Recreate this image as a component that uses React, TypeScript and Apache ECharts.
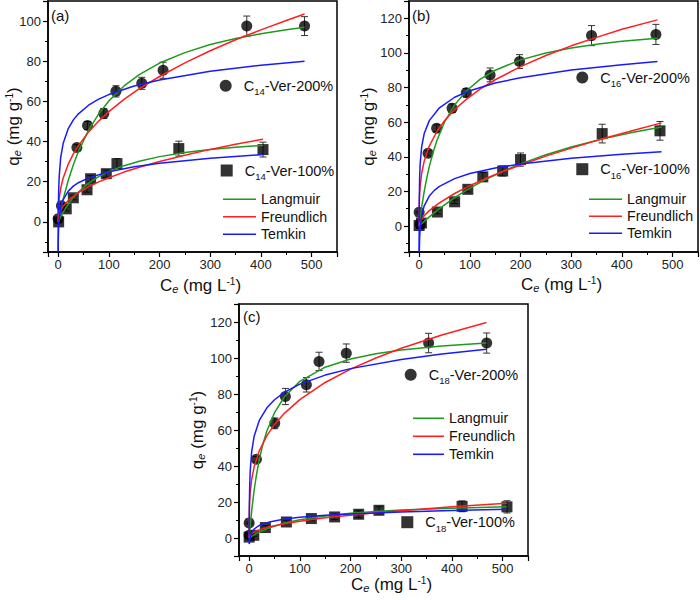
import React, { useEffect, useRef } from "react";
import * as echarts from "echarts";

const FONT = '"Liberation Sans", Arial, sans-serif';

// ---------- Panel (a): C14 ----------
const aC200 = [0, 6.5, 37, 58, 90, 114, 165, 207, 372, 486];
const aQ200 = [1.5, 8, 37, 48, 54, 65, 69, 75.5, 97.5, 97.5];
const aE200 = [0.5, 1, 1.5, 2, 2.5, 2.8, 3, 4, 5, 4.7];
const aC100 = [1, 16, 30, 57, 64, 95, 116, 238, 404];
const aQ100 = [0, 6.5, 12, 16, 21.5, 24, 29, 36.5, 36];
const aE100 = [0.3, 1, 1, 1.2, 1.5, 1.8, 2.5, 3.7, 3.7];

const aLang200 = [[0, 0], [2.5, 3.1], [5, 6.0], [10, 11.4], [20, 20.7], [30, 28.4], [40, 35.1], [60, 45.7], [80, 53.8], [100, 60.2], [130, 67.7], [160, 73.3], [200, 79.1], [250, 84.3], [300, 88.3], [350, 91.3], [400, 93.7], [450, 95.7], [486, 96.9]];
const aFreu200 = [[0, 0], [0.3, 5.4], [1, 8.7], [2, 11.5], [5, 16.6], [10, 21.9], [20, 28.8], [30, 33.9], [40, 38.0], [60, 44.8], [80, 50.2], [100, 54.9], [130, 61.0], [160, 66.4], [200, 72.4], [250, 79.2], [300, 85.2], [350, 90.7], [400, 95.6], [450, 100.3], [486, 103.5]];
const aTemk200 = [[0.057, -15], [0.1, -9.1], [0.2, -1.8], [0.5, 7.8], [1, 15.1], [2, 22.3], [5, 32.0], [10, 39.2], [20, 46.5], [30, 50.8], [40, 53.8], [60, 58.1], [80, 61.1], [100, 63.4], [150, 67.7], [200, 70.7], [300, 75.0], [400, 78.0], [486, 80.0]];
const aLang100 = [[0, 0], [5, 2.6], [10, 4.9], [20, 8.9], [30, 12.2], [40, 14.9], [60, 19.3], [80, 22.5], [100, 25.1], [130, 28.0], [160, 30.2], [200, 32.5], [250, 34.5], [300, 36.0], [350, 37.2], [404, 38.1]];
const aFreu100 = [[0, 0], [0.5, 2.0], [1, 2.8], [2.5, 4.3], [5, 5.7], [10, 7.8], [20, 10.7], [40, 14.6], [60, 17.5], [80, 19.9], [100, 22.0], [130, 24.8], [160, 27.2], [200, 30.1], [250, 33.2], [300, 36.1], [350, 38.7], [404, 41.2]];
const aTemk100 = [[0.133, -15], [0.3, -10.1], [0.6, -5.9], [1, -2.8], [2, 1.4], [5, 6.9], [10, 11.1], [20, 15.3], [30, 17.8], [40, 19.5], [60, 21.9], [100, 25.0], [150, 27.5], [200, 29.2], [300, 31.7], [404, 33.5]];

// ---------- Panel (b): C16 ----------
const bC200 = [0, 2, 17.6, 34.5, 65, 93, 140, 198, 340, 467];
const bQ200 = [8, 1, 42, 56.5, 68, 77, 87.3, 95, 110, 110.7];
const bE200 = [0.5, 0.5, 1.5, 2, 2.5, 2.5, 4, 4, 5.8, 5.8];
const bC100 = [0, 4.5, 36, 70, 96, 125.6, 164.7, 200, 361, 475];
const bQ100 = [0.3, 1.7, 8.1, 14, 21.2, 28.4, 31.8, 38.4, 53.4, 55];
const bE100 = [0.3, 0.5, 1, 1, 1.5, 2.5, 2.9, 3.8, 5.4, 5.4];

const bLang200 = [[0, 0], [2, 4.6], [5, 10.9], [10, 20], [15, 27.7], [20, 34.3], [27, 42.0], [35, 49.4], [50, 60], [70, 70], [93, 78], [120, 84.7], [150, 90], [200, 96], [250, 100], [300, 102.9], [350, 105], [400, 106.7], [470, 108.5]];
const bFreu200 = [[0, 0], [0.1, 9.4], [0.5, 15.3], [1, 18.8], [2, 23.1], [5, 30.5], [10, 37.5], [20, 46.2], [35, 54.6], [50, 60.8], [70, 67.3], [93, 73.2], [120, 79.1], [150, 84.5], [200, 92.1], [250, 98.5], [300, 104.1], [350, 109.0], [400, 113.7], [470, 119.1]];
const bTemk200 = [[0.018, -14.9], [0.05, -3.9], [0.1, 3.6], [0.3, 15.5], [1, 28.5], [2, 36.0], [5, 45.9], [10, 53.4], [20, 60.9], [40, 68.3], [70, 74.4], [100, 78.2], [150, 82.6], [200, 85.7], [300, 90.1], [400, 93.2], [470, 95.0]];
const bLang100 = [[0, 0], [10, 2.7], [20, 5.3], [40, 10.1], [70, 16.4], [100, 21.9], [130, 26.7], [165, 31.6], [200, 35.9], [250, 41.2], [300, 45.7], [360, 50.2], [420, 54.0], [478, 57.2]];
const bFreu100 = [[0, 0], [1, 1.5], [5, 3.9], [10, 5.9], [20, 8.9], [40, 13.4], [70, 18.8], [100, 23.3], [130, 27.3], [165, 31.5], [200, 35.3], [250, 40.4], [300, 45.0], [360, 50.3], [420, 55.1], [478, 59.6]];
const bTemk100 = [[0.36, -15], [0.6, -10.9], [1, -6.8], [2, -1.2], [5, 6.2], [10, 11.7], [20, 17.3], [30, 20.6], [40, 22.9], [70, 27.4], [100, 30.3], [150, 33.5], [200, 35.9], [300, 39.1], [400, 41.4], [478, 42.9]];

// ---------- Panel (c): C18 ----------
const cC200 = [0, 0, 14.4, 50.5, 71.5, 112.9, 137.8, 191.6, 354, 468.5];
const cQ200 = [8.4, 1.5, 43.8, 63.7, 78.6, 85.1, 98.1, 102.7, 108.3, 108.3];
const cE200 = [0.5, 0.5, 1.5, 3, 4.5, 4, 5.1, 5.1, 5.4, 5.6];
const cC100 = [0, 9.2, 32, 73.5, 122.7, 168.6, 216, 256, 420, 508.5];
const cQ100 = [0.5, 1.5, 5.8, 8.9, 10.8, 11.7, 13.2, 15.4, 17.6, 17.3];
const cE100 = [0.3, 0.5, 1, 1, 1.2, 1.5, 2, 2, 3, 3.4];

const cLang200 = [[0, 0], [2, 6.6], [5, 15.1], [10, 26.8], [15, 36.0], [20, 43.5], [27, 52.1], [35, 59.4], [50, 69.6], [70, 78.6], [100, 87], [150, 94.9], [200, 99.4], [250, 102.4], [300, 104.4], [380, 106.6], [468, 108.3]];
const cFreu200 = [[0, 0], [0.1, 10.6], [0.5, 16.8], [1, 20.5], [2, 25.0], [5, 32.5], [10, 39.7], [20, 48.4], [35, 56.9], [50, 63.0], [70, 69.4], [100, 76.9], [150, 86.4], [200, 93.8], [250, 100.0], [300, 105.4], [380, 112.8], [468, 119.7]];
const cTemk200 = [[0.085, -3.0], [0.2, 7.8], [0.5, 19.2], [1, 27.9], [2, 36.6], [5, 48.0], [10, 56.7], [20, 65.3], [35, 72.3], [50, 76.8], [70, 81.0], [100, 85.5], [150, 90.5], [200, 94.1], [300, 99.2], [380, 102.2], [468, 104.8]];
const cLang100 = [[0, 0], [5, 0.9], [10, 1.8], [20, 3.3], [40, 5.7], [70, 8.3], [100, 10.1], [150, 12.2], [200, 13.7], [250, 14.7], [300, 15.5], [400, 16.5], [508, 17.3]];
const cFreu100 = [[0, 0], [1, 1.2], [5, 2.4], [10, 3.3], [20, 4.5], [40, 6.2], [70, 7.9], [100, 9.3], [150, 11.2], [200, 12.7], [250, 14.0], [300, 15.2], [400, 17.3], [508, 19.3]];
const cTemk100 = [[0.5, -3.4], [1, -1.4], [2, 0.5], [5, 3.1], [10, 5.0], [20, 7.0], [40, 8.9], [70, 10.5], [100, 11.5], [150, 12.6], [200, 13.4], [300, 14.5], [400, 15.3], [508, 16.0]];

const GREEN = "#1f9a1f";
const RED = "#ff1f1f";
const BLUE = "#1a1aff";

const zip3 = (xs: number[], ys: number[], es: number[]) => xs.map((x, i) => [x, ys[i], es[i]]);

function errorBars(idx: number, data: number[][]) {
  return {
    type: "custom",
    xAxisIndex: idx,
    yAxisIndex: idx,
    data,
    z: 2,
    silent: true,
    encode: { x: 0, y: 1 },
    renderItem: (_params: any, api: any) => {
      const x = api.value(0);
      const y = api.value(1);
      const e = api.value(2);
      const p1 = api.coord([x, y + e]);
      const p2 = api.coord([x, y - e]);
      const w = 3.5;
      const st = () => ({ stroke: "#333", lineWidth: 1 });
      return {
        type: "group",
        children: [
          { type: "line", shape: { x1: p1[0], y1: p1[1], x2: p2[0], y2: p2[1] }, style: st() },
          { type: "line", shape: { x1: p1[0] - w, y1: p1[1], x2: p1[0] + w, y2: p1[1] }, style: st() },
          { type: "line", shape: { x1: p2[0] - w, y1: p2[1], x2: p2[0] + w, y2: p2[1] }, style: st() },
        ],
      };
    },
  };
}

function scatter(idx: number, name: string, symbol: string, data: number[][]) {
  return {
    type: "scatter",
    name,
    xAxisIndex: idx,
    yAxisIndex: idx,
    symbol,
    symbolSize: 11,
    itemStyle: { color: "#000" },
    data: data.map((d) => [d[0], d[1]]),
    z: 3,
    silent: true,
  };
}

function curve(idx: number, name: string, color: string, data: number[][]) {
  return {
    type: "line",
    name,
    xAxisIndex: idx,
    yAxisIndex: idx,
    data,
    symbol: "none",
    showSymbol: false,
    smooth: false,
    clip: true,
    lineStyle: { color, width: 1.5 },
    itemStyle: { color },
    z: 4,
    silent: true,
  };
}

const subRich = {
  n: { fontSize: 17, fontFamily: FONT, color: "#111", lineHeight: 18 },
  s: { fontSize: 11, fontFamily: FONT, fontStyle: "italic", color: "#111", lineHeight: 10, verticalAlign: "bottom" },
  p: { fontSize: 10, fontFamily: FONT, color: "#111", lineHeight: 10, verticalAlign: "top" },
};

function xAxisFor(idx: number, gap: number) {
  return {
    type: "value",
    gridIndex: idx,
    min: -20,
    max: 550,
    splitNumber: 5,
    name: "{n|C}{s|e}{n| (mg L}{p|-1}{n|)}",
    nameLocation: "middle",
    nameGap: gap,
    nameMoveOverlap: false,
    nameTextStyle: { rich: subRich, padding: [0, 0, 0, 16] },
    axisLine: { show: true, onZero: false, lineStyle: { color: "#000", width: 1.5 } },
    axisTick: { show: true, inside: false, length: 5, lineStyle: { color: "#000", width: 1.2 } },
    minorTick: { show: true, splitNumber: 2, length: 3, lineStyle: { color: "#000", width: 1 } },
    axisLabel: {
      fontSize: 13,
      fontFamily: FONT,
      color: "#222",
      margin: 6,
      formatter: (v: number) => (v % 100 === 0 ? String(v) : ""),
    },
    splitLine: { show: false },
    minorSplitLine: { show: false },
  };
}

function yAxisFor(idx: number, min: number, max: number, splitNumber: number, gap: number) {
  return {
    type: "value",
    gridIndex: idx,
    min,
    max,
    splitNumber,
    name: "{n|q}{s|e}{n| (mg g}{p|-1}{n|)}",
    nameLocation: "middle",
    nameRotate: 90,
    nameGap: gap,
    nameMoveOverlap: false,
    nameTextStyle: { rich: subRich },
    axisLine: { show: true, onZero: false, lineStyle: { color: "#000", width: 1.5 } },
    axisTick: { show: true, inside: false, length: 5, lineStyle: { color: "#000", width: 1.2 } },
    minorTick: { show: true, splitNumber: 2, length: 3, lineStyle: { color: "#000", width: 1 } },
    axisLabel: {
      fontSize: 13,
      fontFamily: FONT,
      color: "#222",
      margin: 7,
      formatter: (v: number) => (v % 20 === 0 ? String(v) : ""),
    },
    splitLine: { show: false },
    minorSplitLine: { show: false },
  };
}

const legRich = {
  g: { width: 7, fontSize: 14.5, lineHeight: 22 },
  n: { fontSize: 14.5, fontFamily: FONT, color: "#111", lineHeight: 22 },
  s: { fontSize: 9.5, fontFamily: FONT, color: "#111", lineHeight: 11, verticalAlign: "bottom" },
};

function pointLegend(name: string, icon: string, cx: number, cy: number) {
  return {
    data: [{ name, icon }],
    left: cx - 6,
    top: cy - 11,
    padding: 0,
    itemWidth: 12,
    itemHeight: 12,
    selectedMode: false,
    formatter: (n: string) => {
      const m = n.match(/^C(\d+)(.*)$/);
      return m ? `{g| }{n|C}{s|${m[1]}}{n|${m[2]}}` : `{n|${n}}`;
    },
    textStyle: { rich: legRich },
  };
}

function modelLegend(left: number, width: number, cy: number, lh: number) {
  return {
    data: [
      { name: "Langmuir", icon: "rect" },
      { name: "Freundlich", icon: "rect" },
      { name: "Temkin", icon: "rect" },
    ],
    orient: "vertical",
    left,
    top: cy - lh / 2,
    padding: 0,
    itemWidth: width,
    itemHeight: 1.6,
    itemGap: 0,
    selectedMode: false,
    textStyle: { fontSize: 14.2, fontFamily: FONT, color: "#111", lineHeight: lh },
  };
}

function panelSeries(idx: number, n: string, hi: number[][], lo: number[][], curves: number[][][]) {
  return [
    errorBars(idx, hi),
    errorBars(idx, lo),
    scatter(idx, `C${n}-Ver-200%`, "circle", hi),
    scatter(idx, `C${n}-Ver-100%`, "rect", lo),
    curve(idx, "Langmuir", GREEN, curves[0]),
    curve(idx, "Freundlich", RED, curves[1]),
    curve(idx, "Temkin", BLUE, curves[2]),
    curve(idx, "Langmuir", GREEN, curves[3]),
    curve(idx, "Freundlich", RED, curves[4]),
    curve(idx, "Temkin", BLUE, curves[5]),
  ];
}

export default function App() {
  const ref = useRef<HTMLDivElement>(null);
  useEffect(() => {
    if (!ref.current) return;
    const chart = echarts.init(ref.current, undefined, { renderer: "svg" });
    const gridBase = {
      show: true,
      borderColor: "#000",
      borderWidth: 1.5,
      backgroundColor: "transparent",
      containLabel: false,
      outerBoundsMode: "none",
    };
    const option: any = {
      animation: false,
      backgroundColor: "#fff",
      grid: [
        { ...gridBase, left: 48, top: 1, width: 289, height: 251 },
        { ...gridBase, left: 409, top: 1, width: 289, height: 251 },
        { ...gridBase, left: 239, top: 304, width: 289, height: 252 },
      ],
      xAxis: [xAxisFor(0, 24), xAxisFor(1, 23), xAxisFor(2, 19)],
      yAxis: [
        yAxisFor(0, -15, 110, 6, 26),
        yAxisFor(1, -15, 130, 7, 32),
        yAxisFor(2, -10, 130, 7, 33),
      ],
      legend: [
        pointLegend("C14-Ver-200%", "circle", 225.7, 89.3),
        pointLegend("C14-Ver-100%", "rect", 226.7, 174),
        modelLegend(223, 33, 199.3, 17.5),
        pointLegend("C16-Ver-200%", "circle", 582.3, 81),
        pointLegend("C16-Ver-100%", "rect", 582.3, 172.7),
        modelLegend(589, 33, 199.3, 17),
        pointLegend("C18-Ver-200%", "circle", 410.7, 378.3),
        pointLegend("C18-Ver-100%", "rect", 407.3, 525.7),
        modelLegend(413, 31, 418.3, 18),
      ],
      graphic: [
        { type: "text", left: 51, top: 8, style: { text: "(a)", fontSize: 15, fontFamily: FONT, fill: "#111" } },
        { type: "text", left: 412, top: 8, style: { text: "(b)", fontSize: 15, fontFamily: FONT, fill: "#111" } },
        { type: "text", left: 243, top: 309, style: { text: "(c)", fontSize: 15, fontFamily: FONT, fill: "#111" } },
      ],
      series: [
        ...panelSeries(0, "14", zip3(aC200, aQ200, aE200), zip3(aC100, aQ100, aE100), [aLang200, aFreu200, aTemk200, aLang100, aFreu100, aTemk100]),
        ...panelSeries(1, "16", zip3(bC200, bQ200, bE200), zip3(bC100, bQ100, bE100), [bLang200, bFreu200, bTemk200, bLang100, bFreu100, bTemk100]),
        ...panelSeries(2, "18", zip3(cC200, cQ200, cE200), zip3(cC100, cQ100, cE100), [cLang200, cFreu200, cTemk200, cLang100, cFreu100, cTemk100]),
      ],
    };
    chart.setOption(option);
    return () => chart.dispose();
  }, []);
  return (
    <div
      ref={ref}
      style={{ position: "absolute", left: 0, top: 0, width: 700, height: 600, background: "#fff" }}
    />
  );
}
